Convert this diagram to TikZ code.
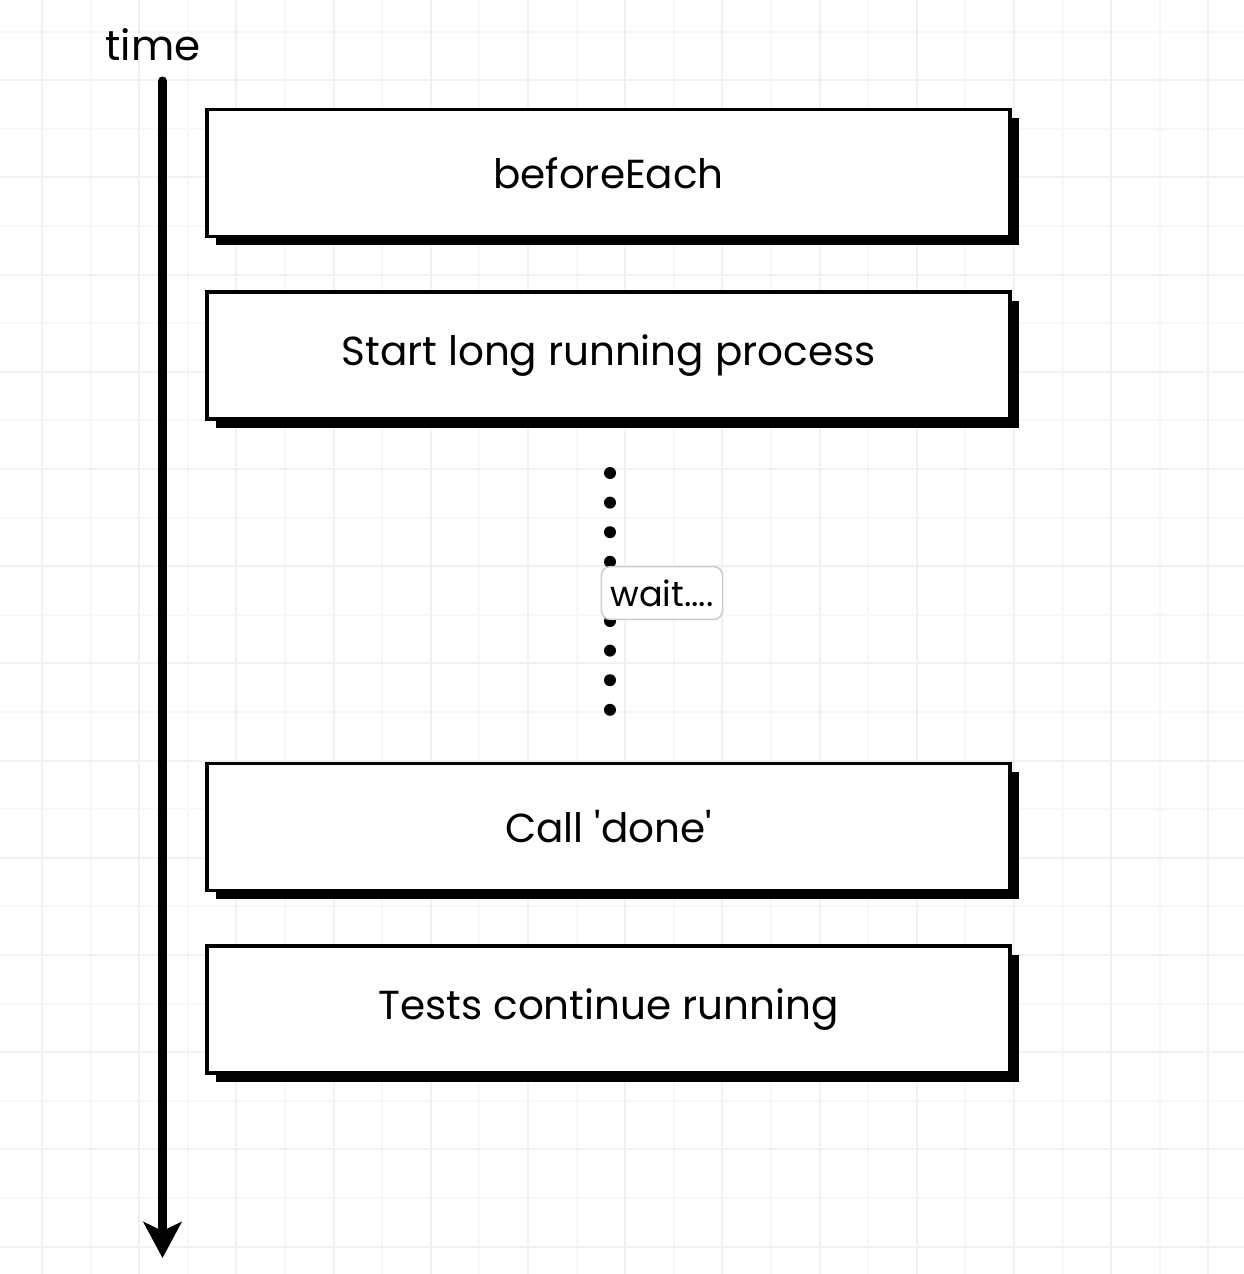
\documentclass[tikz,border=0pt]{standalone}
\usepackage{fontspec}
\setmainfont{Poppins}
\usetikzlibrary{positioning,arrows.meta,shadows}
\definecolor{gridminor}{HTML}{F7F7F8}
\definecolor{gridmajor}{HTML}{F1F1F3}
\tikzset{
	>={Stealth[length=36pt,width=38pt,inset=9pt]},
	stagebox/.style={
		rectangle,
		fill=white,
		draw=black, line width=3.5pt,
		minimum width=803pt,
		minimum height=127pt,
		font=\fontsize{40.5}{48}\selectfont,
		drop shadow={shadow xshift=8.5pt, shadow yshift=-8.5pt, fill=black, opacity=1}},
	timeline/.style={draw, line width=9pt, line cap=round, ->},
	waitdots/.style={draw, line width=12pt, line cap=round, dash pattern=on 0pt off 29.6pt},
	waitlabel/.style={
		rectangle,
		rounded corners=9pt,
		fill=white,
		draw=black!20, line width=1.5pt,
		font=\fontsize{35}{40}\selectfont,
		inner xsep=9pt, inner ysep=13pt},
	minorgrid/.style={draw=gridminor, line width=2pt},
	majorgrid/.style={draw=gridmajor, line width=2pt},
}
\begin{document}
\begin{tikzpicture}
	[x=1pt, y=1pt,
	node distance=52pt]
	\useasboundingbox (0,0) rectangle (1244,-1274);
	\fill[white] (0,0) rectangle (1244,-1274);
	% background grid
	\draw[minorgrid, step=48.6pt, shift={(42,-31.5)}] (-42,-1242.5) grid (1202,31.5);
	\draw[majorgrid, step=97.2pt, shift={(42,-80.1)}] (-42,-1193.9) grid (1202,80.1);
	% time axis
	\node[font=\fontsize{42}{48}\selectfont] (time) at (153,-45) {time};
	\coordinate (tstart) at (162.5,-81);
	\coordinate (tend) at (162.5,-1258);
	\draw[timeline] (tstart) -- (tend);
	% stages
	\node[stagebox] (before) at (608.5,-173) {beforeEach};
	\node[stagebox, below=of before] (start) {Start long running process};
	\node[stagebox, below=341pt of start] (done) {Call \textquotesingle done\textquotesingle};
	\node[stagebox, below=of done] (tests) {Tests continue running};
	% waiting
	\coordinate (dtop) at (610,-473);
	\coordinate (dbot) at (610,-712);
	\draw[waitdots] (dtop) -- (dbot);
	\node[waitlabel] (wait) at (662,-593) {wait....};
\end{tikzpicture}
\end{document}
